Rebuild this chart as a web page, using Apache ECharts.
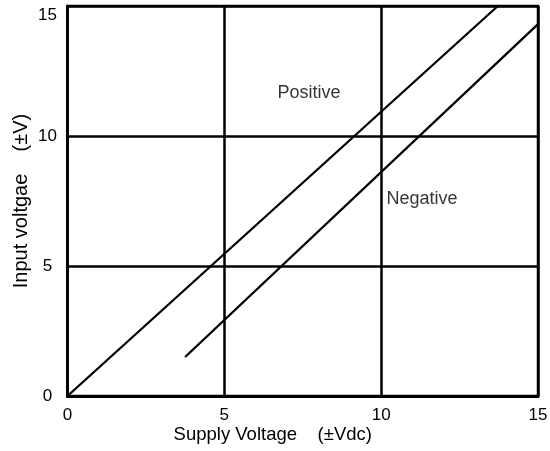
<!DOCTYPE html>
<html><head><meta charset="utf-8">
<script src="https://cdn.jsdelivr.net/npm/echarts@6/dist/echarts.min.js"></script>
<style>html,body{margin:0;padding:0;background:#fff}#c{width:550px;height:451px}</style>
</head><body><div id="c"></div>
<script>
var xTicks = [0, 5, 10, 15];
var yTicks = [0, 5, 10, 15];
var positiveLine = [[0, 0], [13.72, 15]];
var negativeLine = [[3.75, 1.5], [15, 14.3]];
var seriesLabels = [{name: 'Positive', x: 7.7, y: 11.65}, {name: 'Negative', x: 11.3, y: 7.58}];
var xTitle = 'Supply Voltage    (\u00b1Vdc)';
var yTitle = 'Input voltgae    (\u00b1V)';

var font = 'Liberation Sans, Arial, sans-serif';
var txt = '#000';
var chart = echarts.init(document.getElementById('c'), null, {renderer: 'canvas'});
chart.setOption({
  animation: false,
  grid: {left: 67.5, right: 12, top: 6, bottom: 55, show: true, borderColor: '#000', borderWidth: 2.5, backgroundColor: 'transparent',
    containLabel: false, outerBoundsMode: 'none'},
  xAxis: {
    type: 'value', min: 0, max: 15, interval: 5,
    name: xTitle, nameLocation: 'middle', nameGap: 29, nameMoveOverlap: false,
    nameTextStyle: {fontFamily: font, fontSize: 18.5, color: txt, padding: [0, 60, 0, 0]},
    axisLine: {show: true, lineStyle: {color: '#000', width: 3}},
    axisTick: {show: false},
    axisLabel: {fontFamily: font, fontSize: 17, color: txt, margin: 11},
    splitLine: {show: true, lineStyle: {color: '#000', width: 2.5}}
  },
  yAxis: {
    type: 'value', min: 0, max: 15, interval: 5,
    name: yTitle, nameLocation: 'middle', nameGap: 36, nameMoveOverlap: false,
    nameTextStyle: {fontFamily: font, fontSize: 20, color: txt},
    axisLine: {show: true, lineStyle: {color: '#000', width: 2.5}},
    axisTick: {show: false},
    axisLabel: {fontFamily: font, fontSize: 17, color: txt, margin: 20, align: 'center',
      formatter: function (v) { return v === 15 ? '{t|15}' : String(v); },
      rich: {t: {fontFamily: font, fontSize: 17, color: txt, padding: [18, 0, 0, 0]}}},
    splitLine: {show: true, lineStyle: {color: '#000', width: 2.5}}
  },
  series: [
    {type: 'line', data: positiveLine, symbol: 'none', lineStyle: {color: '#000', width: 2.3}},
    {type: 'line', data: negativeLine, symbol: 'none', lineStyle: {color: '#000', width: 2.3}},
    {type: 'scatter', symbolSize: 0, data: seriesLabels.map(function (d) { return {value: [d.x, d.y], name: d.name}; }),
      label: {show: true, position: 'inside', formatter: '{b}', fontFamily: font, fontSize: 18, color: txt}}
  ]
});
</script></body></html>
